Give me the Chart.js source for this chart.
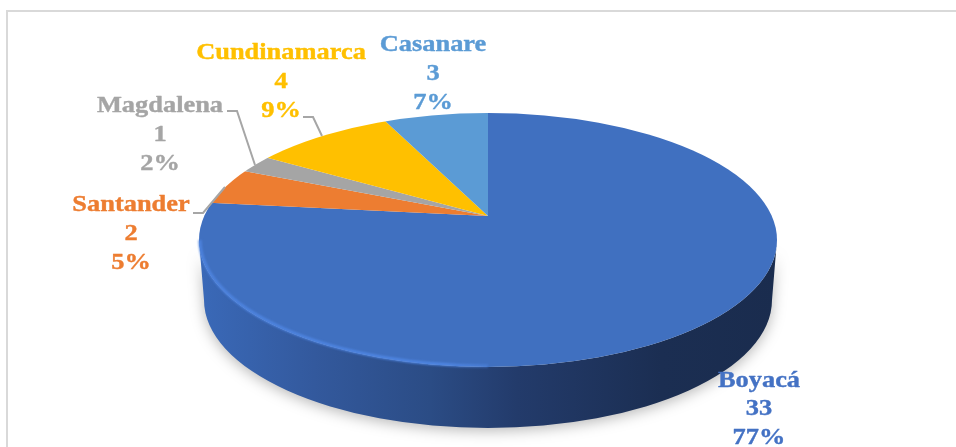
<!DOCTYPE html>
<html>
<head>
<meta charset="utf-8">
<style>
html,body{margin:0;padding:0;background:#fff;}
#wrap{position:relative;width:956px;height:447px;overflow:hidden;}
canvas{display:block;filter:blur(0.45px);}
</style>
<script src="https://cdn.jsdelivr.net/npm/chart.js@4/dist/chart.umd.min.js"></script>
</head>
<body>
<div id="wrap"><canvas id="c" width="956" height="447"></canvas></div>
<script>
const categories = ["Boyacá", "Santander", "Magdalena", "Cundinamarca", "Casanare"];
const counts = [33, 2, 1, 4, 3];
const sliceColors = ["#4070C0", "#ED7D31", "#A5A5A5", "#FFC000", "#5B9BD5"];
const labelColors = ["#4472C4", "#ED7D31", "#A5A5A5", "#FFC000", "#5B9BD5"];

const total = counts.reduce((a, b) => a + b, 0);

// projected look of the disc
const disc = {cx: 488, cy: 240, rx: 289, ry: 127, apexX: 488, apexY: 216, stretch: 2.31,
              floorCy: 300, floorRx: 284, floorRy: 128};
const labelAnchors = [[759, 380.5], [131, 205], [160, 106], [281, 53], [433, 45]];
const leaders = [
  null,
  [[193, 213], [203, 213], [225, 187]],
  [[227, 111], [237, 111], [255, 165]],
  [[303, 117], [313, 117], [322, 136]],
  null
];

const tiltPlugin = {
  id: 'tilt',
  beforeDatasetsDraw(chart) {
    const ctx = chart.ctx, d = disc;
    // frame
    ctx.save();
    ctx.strokeStyle = '#D9D9D9';
    ctx.lineWidth = 2;
    ctx.beginPath();
    ctx.moveTo(7, 447); ctx.lineTo(7, 11); ctx.lineTo(956, 11);
    ctx.stroke();
    ctx.restore();

    // side wall
    ctx.save();
    const g = ctx.createLinearGradient(d.cx - d.rx, 0, d.cx + d.rx, 0);
    g.addColorStop(0, '#3A69B8');
    g.addColorStop(0.2, '#33599D');
    g.addColorStop(0.4, '#2B4C85');
    g.addColorStop(0.55, '#233B6B');
    g.addColorStop(0.8, '#1B2E52');
    g.addColorStop(1, '#1A2C4E');
    ctx.shadowColor = 'rgba(0,0,0,0.28)';
    ctx.shadowBlur = 14;
    ctx.shadowOffsetY = 3;
    ctx.fillStyle = g;
    ctx.beginPath();
    ctx.ellipse(d.cx, d.cy, d.rx, d.ry, 0, Math.PI, 0, true);
    ctx.lineTo(d.cx + d.floorRx, d.floorCy);
    ctx.ellipse(d.cx, d.floorCy, d.floorRx, d.floorRy, 0, 0, Math.PI, false);
    ctx.closePath();
    ctx.fill();
    ctx.restore();

    // top face: library arcs, tilted and trimmed to the disc outline
    ctx.save();
    ctx.beginPath();
    ctx.ellipse(d.cx, d.cy, d.rx, d.ry, 0, 0, Math.PI * 2);
    ctx.clip();
    const arc = chart.getDatasetMeta(0).data[0];
    ctx.translate(d.apexX, d.apexY);
    ctx.scale(d.stretch, 1);
    ctx.translate(-arc.x, -arc.y);
  },
  afterDatasetsDraw(chart) {
    const ctx = chart.ctx, d = disc;
    ctx.restore();

    // lit rim on the lower-left edge
    ctx.save();
    const rim = ctx.createLinearGradient(d.cx - d.rx, 0, d.cx + 60, 0);
    rim.addColorStop(0, 'rgba(78,132,224,0.95)');
    rim.addColorStop(0.7, 'rgba(80,136,230,0.95)');
    rim.addColorStop(1, 'rgba(78,132,224,0)');
    ctx.strokeStyle = rim;
    ctx.lineWidth = 3;
    ctx.filter = 'blur(1px)';
    ctx.beginPath();
    ctx.ellipse(d.cx, d.cy, d.rx - 1, d.ry - 1, 0, Math.PI * 0.5, Math.PI, false);
    ctx.stroke();
    ctx.restore();

    // leader lines
    ctx.save();
    ctx.strokeStyle = '#A6A6A6';
    ctx.lineWidth = 2;
    leaders.forEach(pts => {
      if (!pts) return;
      ctx.beginPath();
      pts.forEach((p, i) => i ? ctx.lineTo(p[0], p[1]) : ctx.moveTo(p[0], p[1]));
      ctx.stroke();
    });
    ctx.restore();

    // data labels
    ctx.save();
    ctx.font = 'bold 24px "Liberation Serif"';
    ctx.textAlign = 'center';
    ctx.textBaseline = 'middle';
    ctx.lineWidth = 0.4;
    ctx.lineJoin = 'round';
    categories.forEach((name, i) => {
      const lines = [name, String(counts[i]), Math.round(counts[i] / total * 100) + '%'];
      ctx.fillStyle = labelColors[i];
      ctx.strokeStyle = labelColors[i];
      lines.forEach((t, j) => {
        ctx.save();
        ctx.translate(labelAnchors[i][0], labelAnchors[i][1] + j * 28.7);
        ctx.scale(1.1, 1);
        ctx.fillText(t, 0, 0);
        ctx.strokeText(t, 0, 0);
        ctx.restore();
      });
    });
    ctx.restore();
  }
};

new Chart(document.getElementById('c'), {
  type: 'pie',
  data: {
    labels: categories,
    datasets: [{data: counts, backgroundColor: sliceColors, borderWidth: 0, clip: false}]
  },
  options: {
    responsive: false,
    animation: false,
    plugins: {legend: {display: false}, tooltip: {enabled: false}, title: {display: false}}
  },
  plugins: [tiltPlugin]
});
</script>
</body>
</html>
